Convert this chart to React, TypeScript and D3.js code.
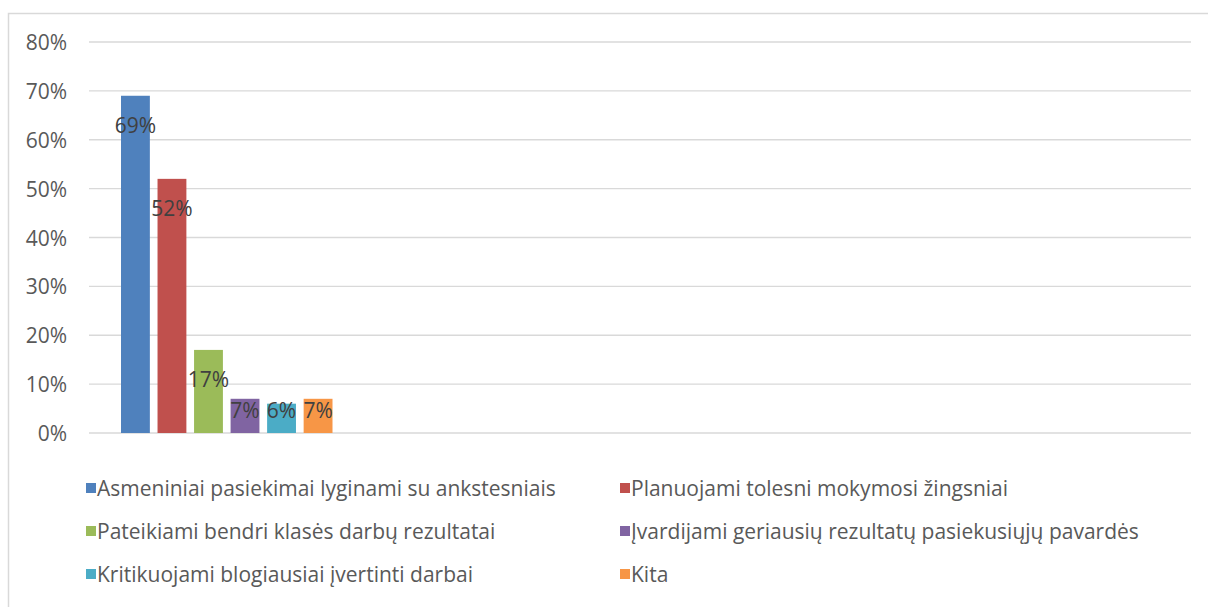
import React from "react";
import * as d3 from "d3";

const seriesNames = [
  "Asmeniniai pasiekimai lyginami su ankstesniais",
  "Planuojami tolesni mokymosi žingsniai",
  "Pateikiami bendri klasės darbų rezultatai",
  "Įvardijami geriausių rezultatų pasiekusiųjų pavardės",
  "Kritikuojami blogiausiai įvertinti darbai",
  "Kita",
];
const seriesValues = [0.69, 0.52, 0.17, 0.07, 0.06, 0.07];
const seriesColors = ["#4F81BD", "#C0504D", "#9BBB59", "#8064A2", "#4BACC6", "#F79646"];
const categorySlots = ["c1", "c2", "c3", "c4"];
const yTicks = [0, 0.1, 0.2, 0.3, 0.4, 0.5, 0.6, 0.7, 0.8];

const W = 1208;
const H = 607;
const FONT = "'Open Sans', sans-serif";
const FS = 21;

export default function App() {
  const left = 89;
  const right = 1191;
  const top = 42;
  const bottom = 433;

  const y = d3.scaleLinear().domain([0, 0.8]).range([bottom, top]);
  const xCat = d3.scaleBand<string>().domain(categorySlots).range([left, right]).paddingInner(0).paddingOuter(0);
  const catStart = xCat(categorySlots[0])!;
  const catW = xCat.bandwidth();
  const gapOuter = 32;
  const xSeries = d3
    .scaleBand<string>()
    .domain(seriesNames)
    .range([catStart + gapOuter, catStart + catW - gapOuter])
    .paddingInner(0.21)
    .paddingOuter(0);
  const pct = d3.format(".0%");

  const legendCols = [86, 620];
  const legendRows = [488, 531, 574];

  return (
    <svg width={W} height={H} style={{ position: "absolute", left: 0, top: 0, background: "#fff" }}>
      <rect x={8.5} y={13.5} width={1300} height={700} fill="#fff" stroke="#d9d9d9" strokeWidth={1.5} />
      {yTicks.map((t) => (
        <g key={t}>
          <line x1={left} x2={right} y1={y(t)} y2={y(t)} stroke="#d9d9d9" strokeWidth={1.3} />
          <text x={67} y={y(t)} textAnchor="end" dominantBaseline="central" fontFamily={FONT} fontSize={FS} fill="#595959">
            {pct(t)}
          </text>
        </g>
      ))}
      {seriesNames.map((s, i) => {
        const x = xSeries(s)!;
        const bw = xSeries.bandwidth();
        const v = seriesValues[i];
        const ly = Math.min(y(v) + 29, y(0) - 23.5);
        return (
          <g key={s}>
            <rect x={x} y={y(v)} width={bw} height={y(0) - y(v)} fill={seriesColors[i]} />
            <text x={x + bw / 2} y={ly} textAnchor="middle" dominantBaseline="central" fontFamily={FONT} fontSize={FS} fill="#404040">
              {pct(v)}
            </text>
          </g>
        );
      })}
      {seriesNames.map((s, i) => {
        const cx = legendCols[i % 2];
        const cy = legendRows[Math.floor(i / 2)];
        return (
          <g key={"lg" + s}>
            <rect x={cx} y={cy - 5} width={10} height={10} fill={seriesColors[i]} />
            <text x={cx + 11} y={cy} dominantBaseline="central" fontFamily={FONT} fontSize={FS} fill="#595959">
              {s}
            </text>
          </g>
        );
      })}
    </svg>
  );
}
